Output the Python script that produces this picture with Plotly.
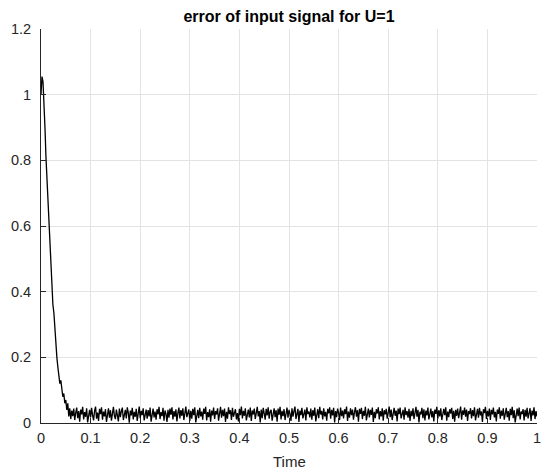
import numpy as np
import plotly.graph_objects as go

# sample spacing of the recorded signal (s)
dt = 0.002

# initial transient, t = 0.000 ... 0.058
transient_values = [
    1.000, 1.055, 1.040, 0.980, 0.900, 0.810, 0.740, 0.660, 0.590, 0.520,
    0.460, 0.400, 0.360, 0.335, 0.280, 0.240, 0.200, 0.170, 0.150, 0.120,
    0.130, 0.100, 0.080, 0.090, 0.060, 0.070, 0.040, 0.060, 0.020, 0.045,
]

# steady-state error, t = 0.060 ... 1.000
noise_values = [
    0.012, 0.038, 0.021, 0.044, 0.009, 0.031, 0.047, 0.015, 0.036, 0.004,
    0.041, 0.026, 0.049, 0.011, 0.033, 0.019, 0.045, 0.002, 0.029, 0.040,
    0.017, 0.046, 0.024, 0.008, 0.037, 0.050, 0.013, 0.032, 0.006, 0.043,
    0.027, 0.048, 0.010, 0.035, 0.020, 0.042, 0.003, 0.030, 0.045, 0.016,
    0.039, 0.007, 0.034, 0.049, 0.022, 0.012, 0.041, 0.028, 0.005, 0.044,
    0.018, 0.036, 0.047, 0.009, 0.025, 0.040, 0.014, 0.048, 0.031, 0.001,
    0.038, 0.023, 0.046, 0.011, 0.034, 0.019, 0.043, 0.006, 0.029, 0.050,
    0.015, 0.037, 0.024, 0.045, 0.008, 0.032, 0.041, 0.013, 0.039, 0.020,
    0.047, 0.004, 0.030, 0.044, 0.017, 0.035, 0.010, 0.042, 0.026, 0.049,
    0.012, 0.033, 0.021, 0.046, 0.007, 0.038, 0.028, 0.003, 0.040, 0.016,
    0.044, 0.025, 0.048, 0.011, 0.036, 0.019, 0.042, 0.005, 0.031, 0.047,
    0.014, 0.039, 0.022, 0.045, 0.009, 0.034, 0.050, 0.018, 0.027, 0.041,
    0.006, 0.037, 0.013, 0.043, 0.024, 0.048, 0.002, 0.030, 0.040, 0.015,
    0.046, 0.020, 0.035, 0.010, 0.044, 0.028, 0.049, 0.008, 0.033, 0.018,
    0.042, 0.004, 0.038, 0.023, 0.047, 0.012, 0.036, 0.026, 0.045, 0.007,
    0.031, 0.049, 0.016, 0.040, 0.021, 0.044, 0.003, 0.034, 0.013, 0.048,
    0.027, 0.039, 0.009, 0.046, 0.019, 0.035, 0.042, 0.011, 0.030, 0.005,
    0.043, 0.024, 0.050, 0.014, 0.037, 0.022, 0.045, 0.008, 0.032, 0.041,
    0.017, 0.047, 0.006, 0.038, 0.026, 0.044, 0.012, 0.033, 0.049, 0.020,
    0.036, 0.002, 0.041, 0.015, 0.046, 0.029, 0.010, 0.043, 0.023, 0.048,
    0.013, 0.035, 0.040, 0.007, 0.031, 0.045, 0.018, 0.039, 0.004, 0.044,
    0.025, 0.049, 0.011, 0.037, 0.021, 0.042, 0.009, 0.034, 0.047, 0.016,
    0.040, 0.028, 0.006, 0.045, 0.019, 0.036, 0.050, 0.012, 0.030, 0.043,
    0.003, 0.038, 0.024, 0.046, 0.014, 0.033, 0.041, 0.008, 0.048, 0.027,
    0.035, 0.017, 0.044, 0.010, 0.039, 0.022, 0.047, 0.005, 0.032, 0.042,
    0.015, 0.049, 0.026, 0.037, 0.011, 0.045, 0.020, 0.034, 0.007, 0.043,
    0.029, 0.048, 0.013, 0.040, 0.023, 0.046, 0.002, 0.036, 0.018, 0.044,
    0.031, 0.009, 0.047, 0.021, 0.038, 0.014, 0.042, 0.027, 0.050, 0.006,
    0.035, 0.016, 0.045, 0.024, 0.041, 0.010, 0.033, 0.048, 0.019, 0.039,
    0.004, 0.043, 0.028, 0.046, 0.012, 0.037, 0.022, 0.049, 0.008, 0.030,
    0.044, 0.017, 0.040, 0.025, 0.047, 0.003, 0.034, 0.015, 0.042, 0.029,
    0.048, 0.011, 0.036, 0.020, 0.045, 0.007, 0.039, 0.026, 0.043, 0.013,
    0.032, 0.050, 0.018, 0.041, 0.009, 0.035, 0.046, 0.022, 0.038, 0.005,
    0.044, 0.027, 0.047, 0.014, 0.031, 0.040, 0.010, 0.048, 0.024, 0.036,
    0.016, 0.043, 0.006, 0.037, 0.021, 0.045, 0.012, 0.033, 0.049, 0.019,
    0.040, 0.002, 0.034, 0.026, 0.046, 0.015, 0.042, 0.008, 0.038, 0.023,
    0.047, 0.011, 0.030, 0.044, 0.017, 0.036, 0.005, 0.041, 0.028, 0.049,
    0.013, 0.039, 0.020, 0.045, 0.009, 0.032, 0.043, 0.024, 0.048, 0.007,
    0.035, 0.018, 0.042, 0.029, 0.046, 0.012, 0.037, 0.004, 0.040, 0.022,
    0.044, 0.015, 0.033, 0.050, 0.010, 0.038, 0.025, 0.047, 0.019, 0.041,
    0.006, 0.036, 0.027, 0.045, 0.014, 0.039, 0.021, 0.048, 0.008, 0.031,
    0.043, 0.016, 0.046, 0.023, 0.035, 0.003, 0.042, 0.030, 0.049, 0.012,
    0.037, 0.020, 0.044, 0.009, 0.040, 0.026, 0.047, 0.017, 0.034, 0.005,
    0.041, 0.028, 0.048, 0.013, 0.038, 0.022, 0.045, 0.010, 0.032, 0.046,
    0.018, 0.036, 0.007, 0.043, 0.024, 0.049, 0.015, 0.039, 0.002, 0.033,
    0.044, 0.021, 0.047, 0.011, 0.035, 0.027, 0.042, 0.008, 0.040, 0.019,
    0.046, 0.014, 0.031, 0.045, 0.006, 0.038, 0.023, 0.048, 0.012, 0.036,
    0.020,
]

error_values = transient_values + noise_values
time_values = np.round(np.arange(len(error_values)) * dt, 3)

x_ticks = [0, 0.1, 0.2, 0.3, 0.4, 0.5, 0.6, 0.7, 0.8, 0.9, 1]
x_tick_labels = ["0", "0.1", "0.2", "0.3", "0.4", "0.5", "0.6", "0.7", "0.8", "0.9", "1"]
y_ticks = [0, 0.2, 0.4, 0.6, 0.8, 1, 1.2]
y_tick_labels = ["0", "0.2", "0.4", "0.6", "0.8", "1", "1.2"]

TXT = "#262626"
GRID = "#e3e3e3"
FONT = "Liberation Sans, Arial, sans-serif"

fig = go.Figure()
fig.add_trace(go.Scatter(
    x=time_values, y=error_values, mode="lines",
    line=dict(color="black", width=1.3), showlegend=False,
))

axis_common = dict(
    showline=True, linecolor=TXT, linewidth=1, mirror=False,
    ticks="inside", ticklen=5, tickcolor=TXT, tickwidth=1,
    showgrid=True, gridcolor=GRID, gridwidth=1, zeroline=False,
    tickfont=dict(family=FONT, size=14.5, color=TXT),
)

fig.update_layout(
    width=546, height=469,
    margin=dict(l=41, r=5, t=29, b=46),
    paper_bgcolor="white", plot_bgcolor="white",
    title=dict(
        text="<b>error of input signal for U=1</b>",
        font=dict(family=FONT, size=16, color="black"),
        x=0.5, xref="paper", xanchor="center",
        y=1 - 16 / 469, yref="container", yanchor="middle",
    ),
    xaxis=dict(range=[0, 1], tickvals=x_ticks, ticktext=x_tick_labels,
               ticklabelstandoff=2, **axis_common),
    yaxis=dict(range=[0, 1.2], tickvals=y_ticks, ticktext=y_tick_labels,
               ticklabelstandoff=6, **axis_common),
    annotations=[dict(
        text="Time", xref="paper", yref="paper", x=0.5, y=-38 / 394,
        xanchor="center", yanchor="middle", showarrow=False,
        font=dict(family=FONT, size=15, color=TXT),
    )],
)

fig.write_html("out.html")
